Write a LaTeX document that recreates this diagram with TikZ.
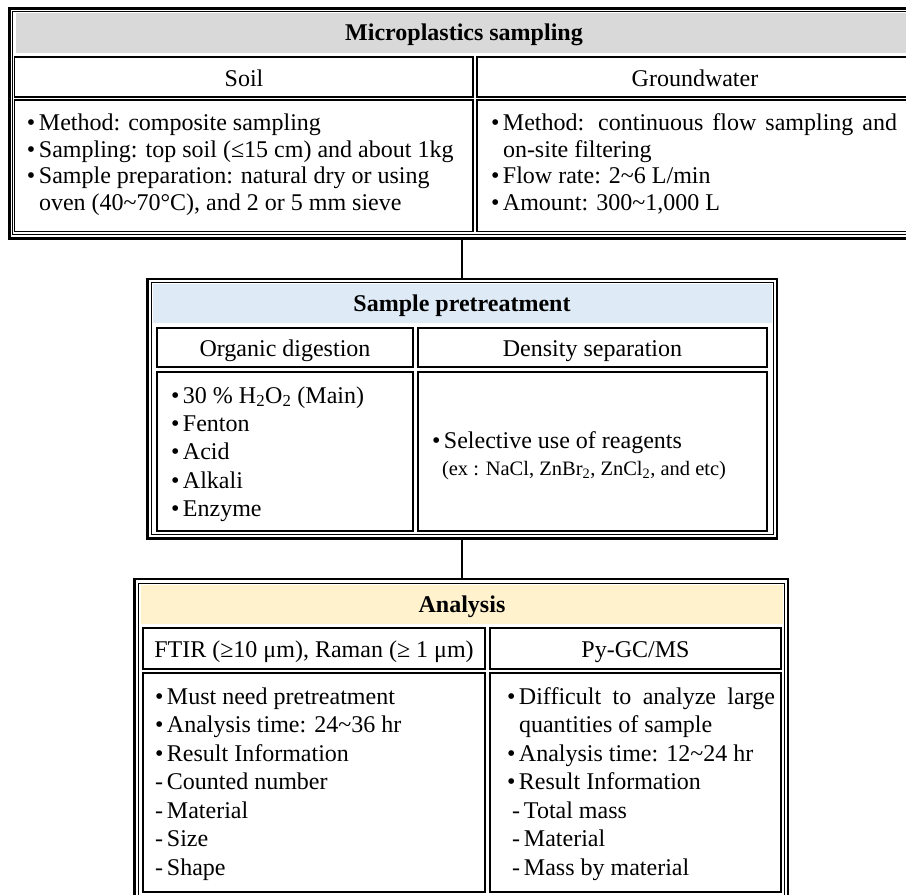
\documentclass[tikz,border=0pt]{standalone}
\usepackage{fontspec}
\setmainfont{Liberation Serif}
\usetikzlibrary{fit}
\definecolor{bandgray}{HTML}{D9D9D9}
\definecolor{bandblue}{HTML}{DEEAF6}
\definecolor{bandcream}{HTML}{FFF2CC}
\newcommand\rbox[6][]{\node[#1, fit={(#3,#4) (#5,#6)}, inner sep=0pt, outer sep=0pt] (#2) {};}
\newcommand\bu{\makebox[12pt][l]{\textbullet}}
\newcommand\da{\makebox[12pt][l]{-}}
\newcommand\tl{\textasciitilde}
\begin{document}
\begin{tikzpicture}[x=1pt,y=-1pt,
  frame/.style={draw=black, line width=2.8pt},
  framein/.style={draw=black, line width=0.9pt},
  cell/.style={draw=black, line width=1.3pt},
  band/.style={draw=none},
  conn/.style={draw=black, line width=2.4pt},
  txt/.style={inner sep=0pt, outer sep=0pt, font=\fontsize{24}{28}\selectfont},
  small/.style={inner sep=0pt, outer sep=0pt, font=\fontsize{20.5}{24}\selectfont},
  ttl/.style={inner sep=0pt, outer sep=0pt, font=\fontsize{24}{28}\selectfont\bfseries},
  hd/.style={inner sep=0pt, outer sep=0pt, font=\fontsize{24}{28}\selectfont, anchor=base}]
\useasboundingbox (0,0) rectangle (906,895);
\fill[white] (0,0) rectangle (906,895);
\clip (0,0) rectangle (906,895);

% ---------- top block ----------
\rbox[band, fill=bandgray]{topband}{15.5}{13}{911}{52.5}
\rbox[frame]{top}{9.7}{8.7}{918}{238.3}
\rbox[framein]{topin}{12.9}{11.9}{914.8}{234.6}
\rbox[cell]{soilh}{14.7}{57}{473}{97}
\rbox[cell]{gwh}{477}{57}{913}{97}
\rbox[cell]{soilb}{14.7}{100}{473}{231.5}
\rbox[cell]{gwb}{477}{100}{913}{231.5}
\node[ttl, anchor=base] (t0) at (464,40.5) {Microplastics sampling};
\node[hd] (h1) at (244,86) {Soil};
\node[hd] (h2) at (695,86) {Groundwater};
\node[txt, anchor=base west] (s1) at (27,130) {\bu Method: composite sampling};
\node[txt, anchor=base west] (s2) at (27,157) {\bu Sampling: top soil (≤15 cm) and about 1kg};
\node[txt, anchor=base west] (s3) at (27,183.3) {\bu Sample preparation: natural dry or using};
\node[txt, anchor=base west] (s4) at (39,210) {oven (40\tl 70°C), and 2 or 5 mm sieve};
\node[txt, anchor=base west] (g1) at (491,130) {\bu\hbox to 394pt{Method: continuous flow sampling and}};
\node[txt, anchor=base west] (g2) at (503,157) {on-site filtering};
\node[txt, anchor=base west] (g3) at (491,183.3) {\bu Flow rate: 2\tl 6 L/min};
\node[txt, anchor=base west] (g4) at (491,210) {\bu Amount: 300\tl 1,000 L};

% ---------- middle block ----------
\rbox[band, fill=bandblue]{midband}{153}{283.5}{772}{323}
\rbox[frame]{mid}{147.5}{279}{777}{538.5}
\rbox[framein]{midin}{151.3}{282.6}{773.4}{534.8}
\rbox[cell]{orgh}{157}{328}{413}{367}
\rbox[cell]{denh}{418}{328}{767}{367}
\rbox[cell]{orgb}{157}{372}{413}{531}
\rbox[cell]{denb}{418}{372}{767}{531}
\node[ttl, anchor=base] (t1) at (462,311.5) {Sample pretreatment};
\node[hd] (h3) at (285,356.5) {Organic digestion};
\node[hd] (h4) at (592.5,356.5) {Density separation};
\node[txt, anchor=base west] (o1) at (171,403) {\bu 30 \% H\textsubscript{2}O\textsubscript{2} (Main)};
\node[txt, anchor=base west] (o2) at (171,431) {\bu Fenton};
\node[txt, anchor=base west] (o3) at (171,459.5) {\bu Acid};
\node[txt, anchor=base west] (o4) at (171,488) {\bu Alkali};
\node[txt, anchor=base west] (o5) at (171,516.5) {\bu Enzyme};
\node[txt, anchor=base west] (d1) at (432,448) {\bu Selective use of reagents};
\node[small, anchor=base west] (d2) at (442,475) {(ex : NaCl, ZnBr\textsubscript{2}, ZnCl\textsubscript{2}, and etc)};

% ---------- bottom block ----------
\rbox[band, fill=bandcream]{botband}{141}{585}{783}{624}
\rbox[frame]{bot}{134.5}{579}{788}{905}
\rbox[framein]{botin}{138.5}{583}{784.3}{901}
\rbox[cell]{fth}{143}{628}{485}{669}
\rbox[cell]{pyh}{490}{628}{781}{669}
\rbox[cell]{ftb}{143}{673}{485}{892}
\rbox[cell]{pyb}{490}{673}{781}{892}
\node[ttl, anchor=base] (t2) at (462,612) {Analysis};
\node[hd] (h5) at (314,657.5) {FTIR (≥10 μm), Raman (≥ 1 μm)};
\node[hd] (h6) at (635.5,657.5) {Py-GC/MS};
\node[txt, anchor=base west] (f1) at (155,704) {\bu Must need pretreatment};
\node[txt, anchor=base west] (f2) at (155,732.5) {\bu Analysis time: 24\tl 36 hr};
\node[txt, anchor=base west] (f3) at (155,761) {\bu Result Information};
\node[txt, anchor=base west] (f4) at (155,789.5) {\da Counted number};
\node[txt, anchor=base west] (f5) at (155,818) {\da Material};
\node[txt, anchor=base west] (f6) at (155,846.5) {\da Size};
\node[txt, anchor=base west] (f7) at (155,875) {\da Shape};
\node[txt, anchor=base west] (p1) at (507,704) {\bu\hbox to 256pt{Difficult to analyze large}};
\node[txt, anchor=base west] (p2) at (519,732.5) {quantities of sample};
\node[txt, anchor=base west] (p3) at (507,761) {\bu Analysis time: 12\tl 24 hr};
\node[txt, anchor=base west] (p4) at (507,789.5) {\bu Result Information};
\node[txt, anchor=base west] (p5) at (512,818) {\da Total mass};
\node[txt, anchor=base west] (p6) at (512,846.5) {\da Material};
\node[txt, anchor=base west] (p7) at (512,875) {\da Mass by material};

% ---------- connectors ----------
\draw[conn] (mid.north |- top.south) -- (mid.north);
\draw[conn] (mid.south) -- (mid.south |- bot.north);
\end{tikzpicture}
\end{document}
